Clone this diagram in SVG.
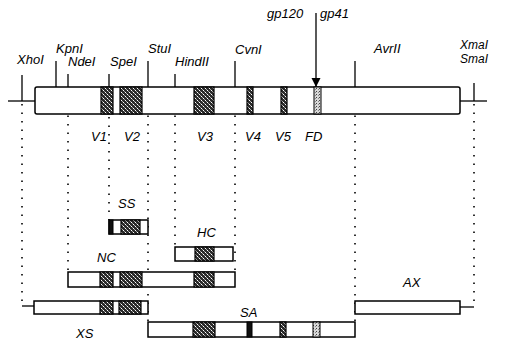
<svg xmlns="http://www.w3.org/2000/svg" width="510" height="342" viewBox="0 0 510 342">
<defs>
<pattern id="st" width="4" height="4" patternUnits="userSpaceOnUse"><rect width="4" height="4" fill="#2a2a2a"/><rect x="1" y="0" width="1" height="1" fill="#fff"/><rect x="3" y="2" width="1" height="1" fill="#fff"/><rect x="0" y="3" width="1" height="1" fill="#999"/><rect x="2" y="1" width="1" height="1" fill="#aaa"/></pattern>
<pattern id="lt" width="3" height="3" patternUnits="userSpaceOnUse"><rect width="3" height="3" fill="#d8d8d8"/><rect x="1" y="1" width="1" height="1" fill="#444"/><rect x="0" y="2" width="1" height="1" fill="#888"/></pattern>
<marker id="ah" viewBox="0 0 10 10" refX="10" refY="5" markerWidth="7" markerHeight="7" orient="auto"><path d="M0,0 L10,5 L0,10 z" fill="#000"/></marker>
</defs>
<style>
.bar{fill:#fff;stroke:#000;stroke-width:1.5}
.dk{fill:url(#st);stroke:#000;stroke-width:1.2}
.bk{fill:#111;stroke:#000;stroke-width:1}
.lt{fill:url(#lt);stroke:#000;stroke-width:1}
.ln{stroke:#000;stroke-width:1.3;fill:none}
.dot{stroke:#000;stroke-width:1.6;stroke-dasharray:1.5 7;fill:none}
text{font-family:"Liberation Sans",Arial,sans-serif;font-style:italic;font-size:13px;fill:#000}
.sm{font-size:12px}
</style>
<g id="connectors">
<line class="dot" x1="22" y1="104" x2="22" y2="305"/>
<line class="dot" x1="68" y1="90" x2="68" y2="272"/>
<line class="dot" x1="109" y1="117" x2="109" y2="220"/>
<line class="dot" x1="148" y1="90" x2="148" y2="322"/>
<line class="dot" x1="175" y1="90" x2="175" y2="247"/>
<line class="dot" x1="235" y1="90" x2="235" y2="272"/>
<line class="dot" x1="355" y1="90" x2="355" y2="322"/>
<line class="dot" x1="474" y1="104" x2="474" y2="306"/>
</g>
<g id="genome">
<line class="ln" x1="8" y1="101" x2="35" y2="101"/>
<line class="ln" x1="460" y1="101" x2="487" y2="101"/>
<rect class="bar" x="35" y="87" width="425" height="27" rx="2"/>
<rect class="dk" x="101" y="87" width="12" height="27"/>
<rect class="dk" x="120" y="87" width="22" height="27"/>
<rect class="dk" x="194" y="87" width="20" height="27"/>
<rect class="dk" x="247" y="87" width="6" height="27"/>
<rect class="dk" x="281" y="87" width="6" height="27"/>
<rect class="lt" x="314" y="87" width="7" height="27"/>
<line class="ln" x1="22" y1="75" x2="22" y2="101"/>
<line class="ln" x1="56" y1="61" x2="56" y2="87"/>
<line class="ln" x1="68" y1="74" x2="68" y2="87"/>
<line class="ln" x1="109" y1="74" x2="109" y2="87"/>
<line class="ln" x1="148" y1="61" x2="148" y2="87"/>
<line class="ln" x1="175" y1="74" x2="175" y2="87"/>
<line class="ln" x1="235" y1="61" x2="235" y2="87"/>
<line class="ln" x1="355" y1="61" x2="355" y2="87"/>
<line class="ln" x1="474" y1="83" x2="474" y2="101"/>
<line class="ln" x1="316" y1="13" x2="316" y2="87" marker-end="url(#ah)"/>
<text x="17" y="64">XhoI</text>
<text x="56" y="53">KpnI</text>
<text x="68" y="66">NdeI</text>
<text x="110" y="66">SpeI</text>
<text x="148" y="53">StuI</text>
<text x="175" y="66">HindII</text>
<text x="235" y="54">CvnI</text>
<text x="267" y="18">gp120</text>
<text x="320" y="18">gp41</text>
<text x="374" y="53">AvrII</text>
<text class="sm" x="460" y="49">XmaI</text>
<text class="sm" x="460" y="63">SmaI</text>
<text x="91" y="141">V1</text>
<text x="124" y="141">V2</text>
<text x="197" y="141">V3</text>
<text x="245" y="141">V4</text>
<text x="275" y="141">V5</text>
<text x="305" y="141">FD</text>
</g>
<g id="SS">
<rect class="bar" x="109" y="220" width="39" height="14"/>
<rect class="bk" x="109" y="220" width="4" height="14"/>
<rect class="dk" x="121" y="220" width="19" height="14"/>
<text x="118" y="208">SS</text>
</g>
<g id="HC">
<rect class="bar" x="175" y="247" width="58" height="14"/>
<rect class="dk" x="195" y="247" width="19" height="14"/>
<text x="197" y="237">HC</text>
</g>
<g id="NC">
<rect class="bar" x="68" y="272" width="167" height="15"/>
<rect class="dk" x="100" y="272" width="13" height="15"/>
<rect class="dk" x="120" y="272" width="22" height="15"/>
<rect class="dk" x="194" y="272" width="20" height="15"/>
<text x="97" y="262">NC</text>
</g>
<g id="XS">
<line class="ln" x1="22" y1="306" x2="34" y2="306"/>
<rect class="bar" x="34" y="301" width="114" height="13"/>
<rect class="dk" x="100" y="301" width="13" height="13"/>
<rect class="dk" x="119" y="301" width="22" height="13"/>
<text x="76" y="338">XS</text>
</g>
<g id="AX">
<rect class="bar" x="355" y="301" width="105" height="13"/>
<line class="ln" x1="460" y1="307" x2="474" y2="307"/>
<text x="403" y="287">AX</text>
</g>
<g id="SA">
<rect class="bar" x="148" y="322" width="207" height="15"/>
<rect class="dk" x="193" y="322" width="22" height="15"/>
<rect class="bk" x="247" y="322" width="5" height="15"/>
<rect class="dk" x="280" y="322" width="6" height="15"/>
<rect class="lt" x="313" y="322" width="7" height="15"/>
<text x="240" y="317">SA</text>
</g>
</svg>
